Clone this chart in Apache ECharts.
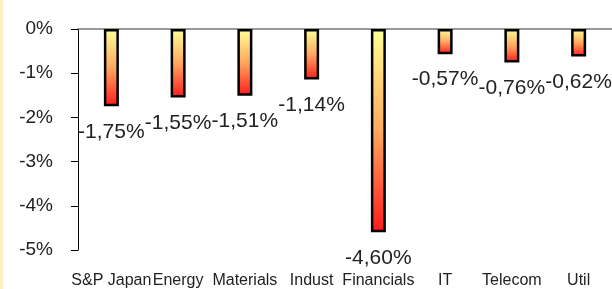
<!DOCTYPE html>
<html>
<head>
<meta charset="utf-8">
<script src="https://cdn.jsdelivr.net/npm/echarts@6/dist/echarts.min.js"></script>
<style>
  html, body { margin: 0; padding: 0; background: #fff; }
  #chart { width: 612px; height: 289px; }
</style>
</head>
<body>
<div id="chart"></div>
<script type="text/javascript">
var categories = ['S&P Japan', 'Energy', 'Materials', 'Indust', 'Financials', 'IT', 'Telecom', 'Util'];
var returns = [-1.75, -1.55, -1.51, -1.14, -4.60, -0.57, -0.76, -0.62];
var yTicks = [0, -1, -2, -3, -4, -5];

var myChart = echarts.init(document.getElementById('chart'));
var option = {
  backgroundColor: '#ffffff',
  animation: false,
  graphic: [{
    type: 'rect',
    left: 0, top: 0,
    shape: { width: 3, height: 289 },
    style: { fill: '#fdf0bf' },
    silent: true
  }],
  grid: { left: 78, top: 29, width: 539, height: 221 },
  xAxis: [{
    type: 'category',
    data: categories,
    position: 'bottom',
    axisLine: { show: false, onZero: false },
    axisTick: { show: false },
    axisLabel: {
      margin: 23,
      interval: 0,
      fontFamily: 'Liberation Sans, Arial, sans-serif',
      fontSize: 16,
      color: '#222'
    }
  }, {
    type: 'category',
    data: categories,
    position: 'top',
    axisLine: { show: true, onZero: false, lineStyle: { color: '#777', width: 1.5 } },
    axisTick: { show: false },
    axisLabel: { show: false }
  }],
  yAxis: {
    type: 'value',
    min: yTicks[yTicks.length - 1],
    max: yTicks[0],
    interval: 1,
    splitLine: { show: false },
    axisLine: { show: true, lineStyle: { color: '#000', width: 1 } },
    axisTick: { show: true, length: 7, lineStyle: { color: '#000' } },
    axisLabel: {
      margin: 25,
      fontFamily: 'Liberation Sans, Arial, sans-serif',
      fontSize: 19,
      color: '#222',
      formatter: function (v) { return v + '%'; }
    }
  },
  series: [{
    type: 'bar',
    data: returns,
    barWidth: 15,
    itemStyle: {
      borderColor: '#000',
      borderWidth: 2.5,
      color: new echarts.graphic.LinearGradient(0, 0, 0, 1, [
        { offset: 0, color: '#ffff99' },
        { offset: 0.5, color: '#ffa860' },
        { offset: 1, color: '#ff1a1a' }
      ])
    },
    label: {
      show: true,
      position: 'bottom',
      distance: 15,
      fontFamily: 'Liberation Sans, Arial, sans-serif',
      fontSize: 21,
      color: '#222',
      formatter: function (p) { return p.value.toFixed(2).replace('.', ',') + '%'; }
    }
  }]
};
myChart.setOption(option);
</script>
</body>
</html>
